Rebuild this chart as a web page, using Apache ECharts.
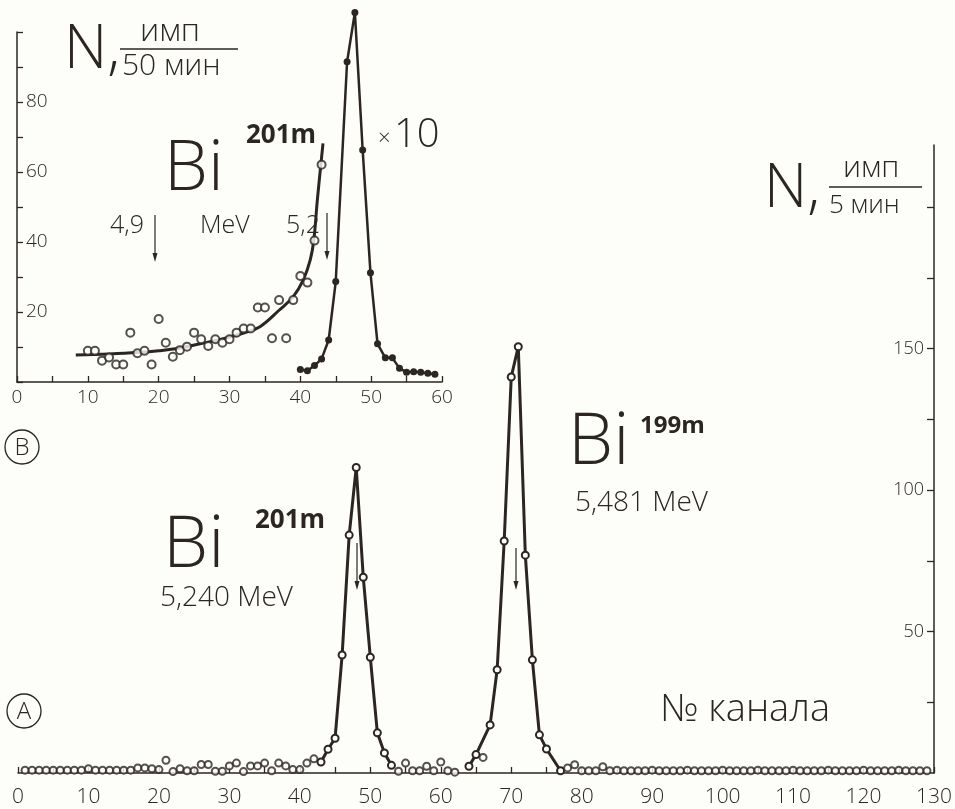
<!DOCTYPE html>
<html>
<head>
<meta charset="utf-8">
<title>Bi alpha spectrum</title>
<script src="https://cdn.jsdelivr.net/npm/echarts@6/dist/echarts.min.js"></script>
<style>html,body{margin:0;background:#fdfdf9;}</style>
</head>
<body>
<div id="main" style="width:955px;height:809px;"></div>
<script>
// --- inset (В): tail under Bi-201m, N per 50 min
var tailCh  = [10, 11, 12, 13, 14, 15, 16, 17, 18, 19, 20, 21, 22, 23, 24, 25, 26, 27, 28, 29, 30, 31, 32, 33, 34, 35, 36, 37, 38, 39, 40, 41, 42, 43];
var tailVal = [8.9, 8.9, 6.1, 7.0, 5.0, 5.0, 14.1, 8.2, 8.9, 5.0, 18.0, 11.2, 7.2, 9.1, 10.1, 14.1, 12.2, 10.3, 12.2, 11.2, 12.2, 14.1, 15.3, 15.3, 21.3, 21.3, 12.5, 23.4, 12.5, 23.4, 30.3, 28.4, 40.4, 62.1];
// hand drawn fit through the tail
var fitCh  = [8.3, 13, 17, 20, 23, 26, 29, 32, 34.3, 37, 39, 40.4, 41.4, 41.9, 42.4, 43.2];
var fitVal = [7.7, 8.0, 8.4, 8.9, 9.7, 11.0, 12.3, 14.0, 15.8, 20.5, 24.4, 29.1, 34.9, 40.5, 52.0, 68.2];
// the main peak, divided by 10
var peakInCh  = [40, 41, 42, 43, 44, 45, 46.6, 47.7, 48.8, 49.9, 50.9, 52, 53, 54, 55, 56, 57, 58, 59];
var peakInVal = [3.6, 3.2, 4.7, 6.6, 12.0, 28.7, 91.5, 105.6, 66.3, 31.2, 10.9, 6.9, 6.9, 3.9, 2.8, 2.9, 2.8, 2.5, 2.2];

// --- main spectrum (А), N per 5 min
var bgCh = [1, 2, 3, 4, 5, 6, 7, 8, 9, 10, 11, 12, 13, 14, 15, 16, 17, 18, 19, 20,
            21, 22, 23, 24, 25, 26, 27, 28, 29, 30, 31, 32, 33, 34, 35, 36, 37, 38, 39, 40, 41, 42,
            54, 55, 56, 57, 58, 59, 60, 61, 62, 66, 78, 79,
            80, 81, 82, 83, 84, 85, 86, 87, 88, 89, 90, 91, 92, 93, 94, 95, 96, 97, 98, 99,
            100, 101, 102, 103, 104, 105, 106, 107, 108, 109, 110, 111, 112, 113, 114,
            115, 116, 117, 118, 119, 120, 121, 122, 123, 124, 125, 126, 127, 128, 129];
var bgVal = [1, 1, 1, 1, 1, 1, 1, 1, 1, 1.5, 1, 1, 1, 1, 1, 1, 1.8, 1.8, 1.5, 1.2,
             4.5, 0.5, 1.5, 0.8, 0.8, 3.0, 3.0, 0.6, 0.6, 2.5, 3.5, 0.5, 2.5, 2.5, 3.5, 0.8, 3.5, 2.5, 1.2, 1.2, 3.5, 5.0,
             0.6, 3.5, 0.8, 0.8, 2.4, 0.8, 3.9, 0.8, 0.3, 5.5, 1.8, 2.9,
             0.8, 0.8, 0.8, 2.2, 0.8, 1, 0.8, 0.8, 0.8, 0.8, 1, 0.8, 0.8, 0.8, 0.8, 1, 0.8, 0.8, 0.8, 0.8,
             1, 0.8, 0.8, 0.8, 0.8, 1, 0.8, 0.8, 0.8, 0.8, 1, 0.8, 0.8, 0.8, 0.8,
             1, 0.8, 0.8, 0.8, 0.8, 1, 0.8, 0.8, 0.8, 0.8, 1, 0.8, 0.8, 0.8, 0.8];
var peak1Ch  = [43, 44, 45, 46, 47, 48, 49, 50, 51, 52, 53];
var peak1Val = [3.9, 8.4, 12.3, 41.7, 84.1, 108.0, 69.2, 40.9, 14.2, 7.1, 2.7];
var peak2Ch  = [64, 65, 67, 68, 69, 70, 71, 72, 73, 74, 75, 77];
var peak2Val = [2.4, 6.5, 17.0, 36.5, 82.0, 140.0, 150.7, 77.0, 40.0, 13.5, 8.5, 0.8];

var mainTicks  = [25, 50, 75, 100, 125, 150, 175, 200];
var mainLabels = [50, 100, 150];

function pairs(xs, ys) {
    var out = [];
    for (var i = 0; i < xs.length; i++) out.push([xs[i], ys[i]]);
    return out;
}

var ink = '#2b2622';
var FONT = '"Open Sans", "Noto Sans", "DejaVu Sans", sans-serif';

function txt(s, x, y, size, weight) {
    return {
        type: 'text', x: x, y: y, z: 10,
        style: { text: s, font: (weight || 300) + ' ' + size + 'px ' + FONT, fill: ink, verticalAlign: 'middle' }
    };
}
function arrow(x, y1, y2) {
    return [
        { type: 'line', z: 10, shape: { x1: x, y1: y1, x2: x, y2: y2 - 5 }, style: { stroke: ink, lineWidth: 1.2 } },
        { type: 'polygon', z: 10, shape: { points: [[x - 2.5, y2 - 9], [x + 2.5, y2 - 9], [x, y2]] }, style: { fill: ink } }
    ];
}
function circled(letter, cx, cy) {
    return [
        { type: 'circle', z: 10, shape: { cx: cx, cy: cy, r: 17 }, style: { fill: 'none', stroke: ink, lineWidth: 1.3 } },
        { type: 'text', z: 10, x: cx, y: cy + 1, style: { text: letter, font: '300 24px ' + FONT, fill: ink, align: 'center', verticalAlign: 'middle' } }
    ];
}

var graphics = [
    // inset labels
    txt('N,', 64, 51, 60),
    txt('имп', 140, 32, 32),
    { type: 'line', z: 10, shape: { x1: 120, y1: 49, x2: 238, y2: 49 }, style: { stroke: ink, lineWidth: 1.5 } },
    txt('50 мин', 122, 66, 30),
    txt('Bi', 164, 170, 70),
    txt('201m', 246, 136, 26, 'bold'),
    txt('×', 378, 139, 22),
    txt('10', 394, 136, 40),
    txt('4,9', 110, 226, 25),
    txt('MeV', 200, 226, 25),
    txt('5,2', 286, 226, 25),
    // main labels
    txt('N,', 764, 190, 60),
    txt('имп', 843, 168, 30),
    { type: 'line', z: 10, shape: { x1: 829, y1: 187, x2: 922, y2: 187 }, style: { stroke: ink, lineWidth: 1.5 } },
    txt('5 мин', 829, 206, 26),
    txt('Bi', 163, 546, 72),
    txt('201m', 255, 521, 26, 'bold'),
    txt('5,240 MeV', 160, 598, 28),
    txt('Bi', 568, 443, 72),
    txt('199m', 640, 426, 24, 'bold'),
    txt('5,481 MeV', 575, 503, 28),
    txt('№ канала', 660, 710, 38)
].concat(arrow(155, 215, 262), arrow(327, 213, 260), arrow(357, 543, 590), arrow(516, 548, 590),
         circled('В', 22, 447), circled('А', 24, 711));

var labelStyle = { fontFamily: FONT, fontWeight: 300, fontSize: 19, color: ink };

var chart = echarts.init(document.getElementById('main'));
chart.setOption({
    backgroundColor: '#fdfdf9',
    animation: false,
    grid: [
        { left: 17, right: 513, top: 32, bottom: 427 },
        { left: 18, right: 17, top: 145, bottom: 36 }
    ],
    xAxis: [{
        gridIndex: 0, type: 'value', min: 0, max: 60, interval: 5,
        axisLine: { onZero: false, lineStyle: { color: ink, width: 1.5 } },
        axisTick: { inside: true, length: 6, lineStyle: { color: ink, width: 1.3 } },
        axisLabel: Object.assign({ margin: 6, formatter: function (v) { return v % 10 === 0 ? v : ''; } }, labelStyle),
        splitLine: { show: false }
    }, {
        gridIndex: 1, type: 'value', min: 0, max: 130, interval: 5,
        axisLine: { onZero: false, lineStyle: { color: ink, width: 1.5 } },
        axisTick: { inside: true, length: 6, lineStyle: { color: ink, width: 1.3 } },
        axisLabel: { margin: 14, fontSize: 21, fontFamily: FONT, fontWeight: 300, color: ink,
            formatter: function (v) { return v % 10 === 0 ? v : ''; } },
        splitLine: { show: false }
    }],
    yAxis: [{
        gridIndex: 0, type: 'value', min: 0, max: 100, interval: 10, position: 'left',
        axisLine: { show: true, onZero: false, lineStyle: { color: ink, width: 1.5 } },
        axisTick: { show: true, inside: true, length: 6, lineStyle: { color: ink, width: 1.3 } },
        axisLabel: Object.assign({ inside: true, margin: 9, formatter: function (v) { return (v % 20 === 0 && v > 0 && v < 100) ? v : ''; } }, labelStyle),
        splitLine: { show: false }
    }, {
        gridIndex: 1, type: 'value', min: 0, max: 222, position: 'right',
        axisLine: { show: true, onZero: false, lineStyle: { color: ink, width: 1.5 } },
        axisTick: { show: true, inside: true, length: 7, customValues: mainTicks, lineStyle: { color: ink, width: 1.3 } },
        axisLabel: { inside: true, margin: 10, customValues: mainLabels, fontFamily: FONT, fontWeight: 300, fontSize: 18, color: ink,
            formatter: function (v) { return mainLabels.indexOf(v) >= 0 ? v : ''; } },
        splitLine: { show: false }
    }],
    series: [{
        name: 'tail', type: 'scatter', xAxisIndex: 0, yAxisIndex: 0,
        symbol: 'emptyCircle', symbolSize: 8,
        itemStyle: { color: ink, borderWidth: 1.3 },
        data: pairs(tailCh, tailVal), z: 3
    }, {
        name: 'fit', type: 'line', xAxisIndex: 0, yAxisIndex: 0, smooth: 0.4,
        showSymbol: false, lineStyle: { color: ink, width: 3 },
        data: pairs(fitCh, fitVal), z: 2
    }, {
        name: 'peak x10', type: 'line', xAxisIndex: 0, yAxisIndex: 0, clip: false,
        symbol: 'circle', symbolSize: 7,
        itemStyle: { color: ink }, lineStyle: { color: ink, width: 2.5 },
        data: pairs(peakInCh, peakInVal), z: 2
    }, {
        name: 'background', type: 'scatter', xAxisIndex: 1, yAxisIndex: 1,
        symbol: 'emptyCircle', symbolSize: 7,
        itemStyle: { color: ink, borderWidth: 1.2 },
        data: pairs(bgCh, bgVal), z: 3
    }, {
        name: 'Bi201m', type: 'line', xAxisIndex: 1, yAxisIndex: 1,
        symbol: 'emptyCircle', symbolSize: 7,
        itemStyle: { color: ink, borderWidth: 1.2 }, lineStyle: { color: ink, width: 3 },
        data: pairs(peak1Ch, peak1Val), z: 2
    }, {
        name: 'Bi199m', type: 'line', xAxisIndex: 1, yAxisIndex: 1,
        symbol: 'emptyCircle', symbolSize: 7,
        itemStyle: { color: ink, borderWidth: 1.2 }, lineStyle: { color: ink, width: 3 },
        data: pairs(peak2Ch, peak2Val), z: 2
    }],
    graphic: graphics
});
</script>
</body>
</html>
